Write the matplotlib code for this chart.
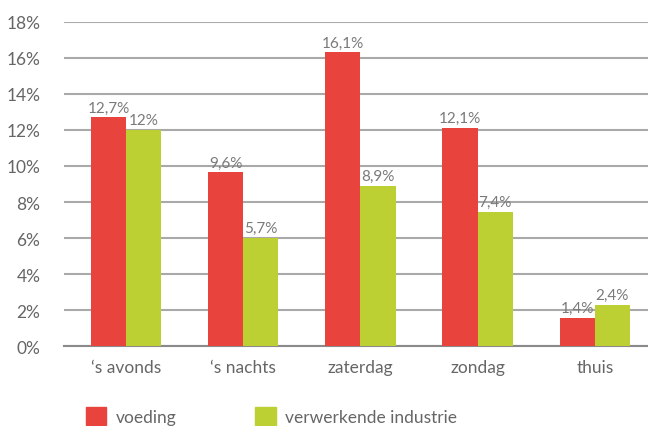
import numpy as np
import matplotlib.pyplot as plt
from matplotlib.patches import Patch

categories = ["\u2018s avonds", "\u2018s nachts", "zaterdag", "zondag", "thuis"]
voeding = [12.7, 9.65, 16.3, 12.1, 1.57]
industrie = [12.0, 6.0, 8.9, 7.45, 2.3]
voeding_labels = ["12,7%", "9,6%", "16,1%", "12,1%", "1,4%"]
industrie_labels = ["12%", "5,7%", "8,9%", "7,4%", "2,4%"]
yticks = [0, 2, 4, 6, 8, 10, 12, 14, 16, 18]

red = '#E8443D'
green = '#BCD033'
txt = '#666666'

plt.rcParams['font.family'] = ['Lato', 'DejaVu Sans']

fig = plt.figure(figsize=(6.48, 4.27), dpi=100)
ax = fig.add_axes([64 / 648, 1 - 347.3 / 427, 1 - 64 / 648, (347.3 - 22.7) / 427])

x = np.arange(len(categories))
w = 0.3
b1 = ax.bar(x - w / 2, voeding, w, color=red, zorder=3)
b2 = ax.bar(x + w / 2, industrie, w, color=green, zorder=3)

# value labels above the bars
for bars, labels in [(b1, voeding_labels), (b2, industrie_labels)]:
    for rect, lab in zip(bars, labels):
        ax.annotate(lab, (rect.get_x() + rect.get_width() / 2, rect.get_height()),
                    xytext=(0, 2), textcoords='offset points', ha='center', va='bottom',
                    fontsize=11, color='#7a7a7a', fontstretch='condensed')

ax.set_xlim(-0.529, 4.454)
ax.set_ylim(0, 18)
ax.set_yticks(yticks)
ax.set_yticklabels([f'{t}%' for t in yticks])
ax.set_xticks(x)
ax.set_xticklabels(categories)
ax.yaxis.grid(True, color='#a9a9a9', linewidth=1.5, zorder=0)
ax.set_axisbelow(True)
for s in ['top', 'right', 'left']:
    ax.spines[s].set_visible(False)
ax.spines['bottom'].set_color('#8a8a8a')
ax.spines['bottom'].set_linewidth(1.5)
ax.tick_params(axis='both', length=0, labelsize=12.5, colors=txt)
ax.tick_params(axis='y', pad=17)
ax.tick_params(axis='x', pad=9)

handles = [Patch(color=red, label='voeding'), Patch(color=green, label='verwerkende industrie')]
fig.legend(handles=handles, loc='center left', bbox_to_anchor=(70 / 648, 1 - 417 / 427),
           ncol=2, frameon=False, fontsize=12.5, labelcolor=txt,
           handlelength=1.2, handleheight=1.2, handletextpad=0.55, columnspacing=4.5)

fig.savefig('out.png', dpi=100)
